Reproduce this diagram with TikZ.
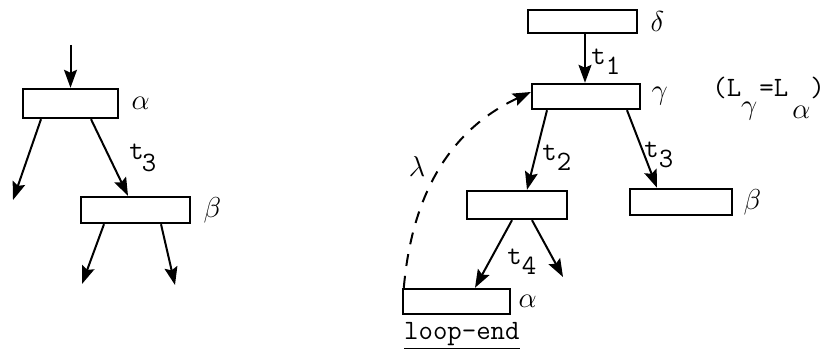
\documentclass[tikz,border=0pt]{standalone}
\usepackage{fontspec}
\usetikzlibrary{positioning,arrows.meta}
\newcommand\lowsub[2][5pt]{\raisebox{-#1}{#2}}

\begin{document}
\begin{tikzpicture}[x=0.5pt,y=-0.5pt,every node/.style={inner sep=0pt, font=\fontsize{14}{16}\selectfont\ttfamily},blk/.style={draw, line width=1.2pt},greek/.style={font=\fontsize{14}{16}\selectfont},lbl/.style={anchor=base west},arr/.style={line width=1pt, -{Stealth[length=9pt,width=6.5pt,inset=1.5pt]}}]
\useasboundingbox (0,0) rectangle (831,351);
\node[blk, minimum width=47.5pt, minimum height=14.5pt] (a1) at (70.5,103.5) {};
\node[greek, right=6pt of a1] (a1l) {$\alpha$};
\node[blk, minimum width=54.5pt, minimum height=13pt] (b1) at (135.5,210) {};
\node[greek, right=6pt of b1] (b1l) {$\beta$};
\coordinate (in1) at (70.5,45);
\coordinate (o1) at (13,200);
\coordinate (o2) at (82,284);
\coordinate (o3) at (175,285);
\draw[arr] (in1) -- (a1);
\draw[arr] ([xshift=-14.75pt]a1.south) -- (o1);
\draw[arr] ([xshift=10.25pt]a1.south) -- ([xshift=-3.75pt]b1.north);
\draw[arr] ([xshift=-15.75pt]b1.south) -- (o2);
\draw[arr] ([xshift=12.75pt]b1.south) -- (o3);
\node[lbl] (t3a) at (129,160) {t\kern-1pt\lowsub[6pt]{3}};
\node[blk, minimum width=54.5pt, minimum height=11.5pt] (d) at (582.5,21.5) {};
\node[greek, right=6pt of d] (dl) {$\delta$};
\node[blk, minimum width=54pt, minimum height=12.5pt] (g) at (586,96.5) {};
\node[greek, right=5pt of g] (gl) {$\gamma$};
\node[blk, minimum width=50pt, minimum height=14pt] (m) at (517,205) {};
\node[blk, minimum width=51pt, minimum height=13pt] (rb) at (681,202) {};
\node[greek, right=5pt of rb] (rbl) {$\beta$};
\node[blk, minimum width=53.5pt, minimum height=12.5pt] (ba) at (456.5,301.5) {};
\node[greek, right=3.5pt of ba] (bal) {$\alpha$};
\node[anchor=north west] (le) at ([xshift=1pt,yshift=-3.5pt]ba.south west) {\underline{loop-end}};
\coordinate (o4) at (563,277);
\draw[arr] ([xshift=1.25pt]d.south) -- ([xshift=-0.5pt]g.north);
\draw[arr] ([xshift=-19.5pt]g.south) -- ([xshift=5pt]m.north);
\draw[arr] ([xshift=20.5pt]g.south) -- ([xshift=-12pt]rb.north);
\draw[arr] ([xshift=-2.5pt]m.south) -- ([xshift=9.25pt]ba.north);
\draw[arr] ([xshift=7.5pt]m.south) -- (o4);
\draw[arr, dash pattern=on 6pt off 5pt] ([xshift=1pt]ba.north west) to[out=85,in=205] ([yshift=2.25pt]g.west);
\node[lbl] (t1) at (591,65) {t\lowsub{1}};
\node[lbl] (t2) at (542,161) {t\lowsub{2}};
\node[lbl] (t3b) at (644,158) {t\lowsub{3}};
\node[lbl] (t4) at (507,265) {t\lowsub{4}};
\node[greek] (lam) at (417,167) {$\lambda$};
\node[lbl] (eq) at (712,97) {(L\lowsub[9pt]{$\gamma$}\kern1pt=L\kern2pt\lowsub[11pt]{$\alpha$})};
\end{tikzpicture}
\end{document}
